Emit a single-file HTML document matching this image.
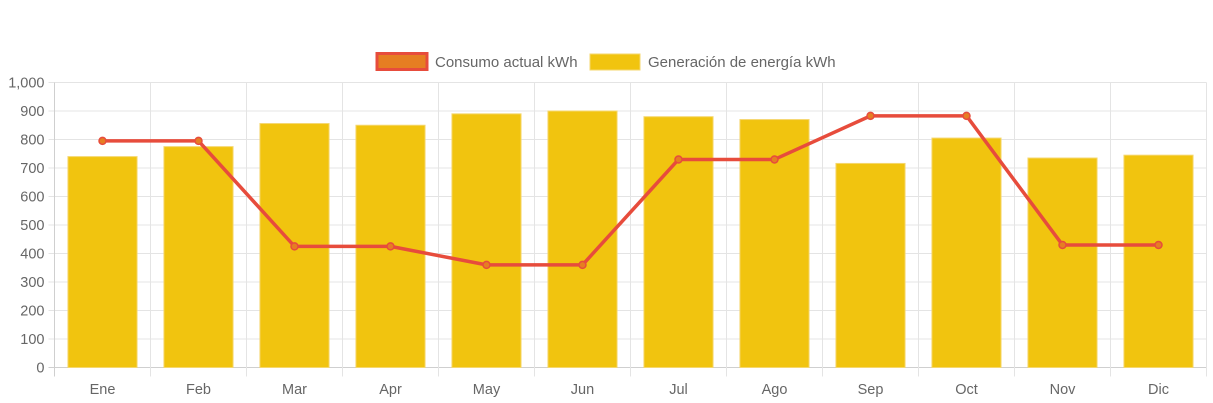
<!DOCTYPE html>
<html><head><meta charset="utf-8"><style>
html,body{margin:0;padding:0;background:#fff;}
svg{display:block;font-family:"Liberation Sans",Arial,sans-serif;}
</style></head><body>
<svg id="chart" width="1213" height="403">
  <g id="legend">
    <g>
      <rect x="377" y="53.5" width="50" height="16" fill="#e67e22" stroke="#e74c3c" stroke-width="3"/>
      <text x="435" y="67" font-size="15" fill="#666">Consumo actual kWh</text>
    </g>
    <g>
      <rect x="590" y="54" width="50" height="16" fill="#f1c40f" stroke="#f5d76e" stroke-width="1"/>
      <text x="648" y="67" font-size="15" fill="#666">Generación de energía kWh</text>
    </g>
  </g>
  <g id="grid"></g>
  <g id="bars"></g>
  <g id="line"></g>
  <g id="labels"></g>
</svg>
<script>
const categories = ["Ene","Feb","Mar","Apr","May","Jun","Jul","Ago","Sep","Oct","Nov","Dic"];
const generacion = [740,775,856,850,890,900,880,870,716,805,735,745];
const consumo = [795,795,425,425,360,360,730,730,883,883,430,430];
const yTicks = [0,100,200,300,400,500,600,700,800,900,1000];
const yTickLabels = ["0","100","200","300","400","500","600","700","800","900","1,000"];

const L=54.5,R=1206.5,T=82.5,B=367.5,yMax=1000;
const NS="http://www.w3.org/2000/svg";
const bw=(R-L)/categories.length;
function y(v){return B-(v/yMax)*(B-T);}
function xc(i){return L+bw*(i+0.5);}
function mk(tag,attrs,parent){const e=document.createElementNS(NS,tag);for(const k in attrs)e.setAttribute(k,attrs[k]);parent.appendChild(e);return e;}
const grid=document.getElementById('grid'),bars=document.getElementById('bars'),line=document.getElementById('line'),labels=document.getElementById('labels');

yTicks.forEach((t,i)=>{
  const gl=mk('line',{x1:L-6,x2:R,y1:y(t),y2:y(t),stroke:i===0?'#cfcfcf':'#e4e4e4','stroke-width':1},grid);
  
  
  const tx=mk('text',{x:L-10,y:y(t)+5,'text-anchor':'end','font-size':14.5,fill:'#666'},labels);
  tx.textContent=yTickLabels[i];
  
  
});
for(let i=0;i<=categories.length;i++){
  const xx=L+bw*i;
  const vl=mk('line',{x1:xx,x2:xx,y1:T,y2:B+9,stroke:i===0?'#cfcfcf':'#e4e4e4','stroke-width':1},grid);
  
  
}
categories.forEach((c,i)=>{
  const w=bw*0.72;
  const r=mk('rect',{x:xc(i)-w/2,y:y(generacion[i]),width:w,height:B-y(generacion[i]),fill:'#f1c40f',stroke:'#f5d76e','stroke-width':1},bars);
  
  
  const tx=mk('text',{x:xc(i),y:394,'text-anchor':'middle','font-size':14.5,fill:'#666'},labels);
  tx.textContent=c;
  
  
});
const pts=consumo.map((v,i)=>xc(i)+','+y(v)).join(' ');
const pl=mk('polyline',{points:pts,fill:'none',stroke:'#e74c3c','stroke-width':3.5,'stroke-linejoin':'round'},line);


consumo.forEach((v,i)=>{
  const c=mk('circle',{cx:xc(i),cy:y(v),r:3.5,fill:'#e67e22',stroke:'#e74c3c','stroke-width':1.5},line);
  
  
});
</script>
</body></html>
